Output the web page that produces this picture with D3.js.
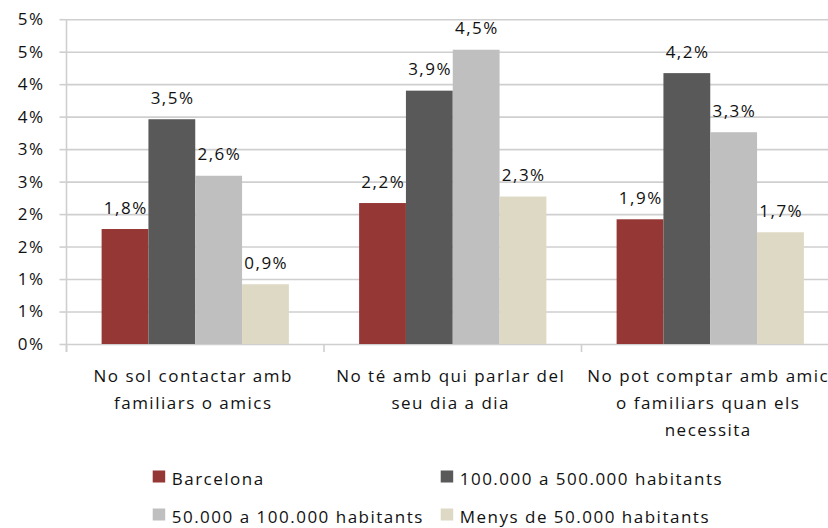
<!DOCTYPE html>
<html>
<head>
<meta charset="utf-8">
<script src="https://cdn.jsdelivr.net/npm/d3@7"></script>
<style>
  body { margin: 0; background: #fff; }
  svg { font-family: "Open Sans", sans-serif; font-size: 17px; letter-spacing: 1.5px; }
</style>
</head>
<body>
<script>
/* DATA */
var categories = ["cat1", "cat2", "cat3"];
var categoryLines = [
  ["No sol contactar amb", "familiars o amics"],
  ["No té amb qui parlar del", "seu dia a dia"],
  ["No pot comptar amb amic", "o familiars quan els", "necessita"]
];
var seriesNames = ["Barcelona", "100.000 a 500.000 habitants", "50.000 a 100.000 habitants", "Menys de 50.000 habitants"];
var barcelona = [1.77, 2.17, 1.92];
var de100a500 = [3.46, 3.90, 4.17];
var de50a100 = [2.59, 4.53, 3.26];
var menys50 = [0.92, 2.27, 1.72];
var yTicks = [0, 0.5, 1, 1.5, 2, 2.5, 3, 3.5, 4, 4.5, 5];

var seriesValues = [barcelona, de100a500, de50a100, menys50];
var colors = ["#953735", "#595959", "#bfbfbf", "#ddd9c4"];

/* GLOBALS */
var W = 828, H = 528;
var plot = { left: 66.5, right: 839, top: 19.2, bottom: 344 };

var loc = d3.formatLocale({ decimal: ",", thousands: ".", grouping: [3], currency: ["", "€"] });
var fmtLabel = function (v) { return loc.format(".1f")(v) + "%"; };
var fmtTick = function (v) { return d3.format(".0f")(v) + "%"; };

var svg = d3.select("body").append("svg")
  .attr("width", W)
  .attr("height", H);

// scales
var x0 = d3.scaleBand().domain(categories).range([plot.left, plot.right]).padding(0);
var x1 = d3.scaleBand().domain(d3.range(seriesNames.length))
  .range([0, x0.bandwidth()]).paddingInner(0).paddingOuter(0.75);
var y = d3.scaleLinear().domain([0, 5]).range([plot.bottom, plot.top]);

// gridlines
svg.append("g")
  .attr("class", "grid")
  .attr("transform", "translate(" + plot.left + ",0)")
  .call(d3.axisLeft(y).tickValues(yTicks).tickSize(-(W - plot.left)).tickFormat(""))
  .call(function (g) { g.select(".domain").remove(); })
  .selectAll("line").attr("stroke", "#cfcfcf").attr("stroke-width", 1.6);

// y axis labels + small ticks
var yAxis = svg.append("g")
  .attr("transform", "translate(" + plot.left + ",0)")
  .call(d3.axisLeft(y).tickValues(yTicks).tickSize(7).tickPadding(15).tickFormat(fmtTick));
yAxis.select(".domain").remove();
yAxis.selectAll("line").attr("stroke", "#cfcfcf").attr("stroke-width", 1.6);
yAxis.selectAll("text").attr("font-size", 17).attr("font-family", "Open Sans").attr("fill", "#111");

// vertical axis line
svg.append("line")
  .attr("x1", plot.left).attr("x2", plot.left)
  .attr("y1", y(5)).attr("y2", y(0) + 8)
  .attr("stroke", "#cfcfcf").attr("stroke-width", 1.6);

// category boundary ticks
svg.selectAll(".xtick")
  .data(categories)
  .enter().append("line")
  .attr("class", "xtick")
  .attr("x1", function (d) { return x0(d); })
  .attr("x2", function (d) { return x0(d); })
  .attr("y1", y(0)).attr("y2", y(0) + 8)
  .attr("stroke", "#cfcfcf").attr("stroke-width", 1.6);

// bars
var groups = svg.selectAll(".cat")
  .data(categories)
  .enter().append("g")
  .attr("class", "cat")
  .attr("transform", function (d) { return "translate(" + x0(d) + ",0)"; });

groups.selectAll("rect")
  .data(function (d, i) { return seriesValues.map(function (s, j) { return { s: j, v: s[i] }; }); })
  .enter().append("rect")
  .attr("x", function (d) { return x1(d.s); })
  .attr("width", x1.bandwidth())
  .attr("y", function (d) { return y(d.v); })
  .attr("height", function (d) { return y(0) - y(d.v); })
  .attr("fill", function (d) { return colors[d.s]; });

groups.selectAll(".lbl")
  .data(function (d, i) { return seriesValues.map(function (s, j) { return { s: j, v: s[i] }; }); })
  .enter().append("text")
  .attr("class", "lbl")
  .attr("x", function (d) { return x1(d.s) + x1.bandwidth() / 2 + 0.75; })
  .attr("y", function (d) { return y(d.v) - 15.5; })
  .attr("text-anchor", "middle")
  .attr("fill", "#111")
  .text(function (d) { return fmtLabel(d.v); });

// category labels
var catLabels = svg.selectAll(".catlabel")
  .data(categories)
  .enter().append("text")
  .attr("class", "catlabel")
  .attr("text-anchor", "middle")
  .attr("fill", "#111");
catLabels.selectAll("tspan")
  .data(function (d, i) { return categoryLines[i]; })
  .enter().append("tspan")
  .attr("x", function () {
    var c = d3.select(this.parentNode).datum();
    return x0(c) + x0.bandwidth() / 2 - 2;
  })
  .attr("y", function (d, i) { return 382 + i * 27; })
  .text(function (d) { return d; });

// legend
var legendPos = [[152.7, 485], [440.7, 485], [152.7, 523], [440.7, 523]];
var legend = svg.selectAll(".leg")
  .data(seriesNames)
  .enter().append("g")
  .attr("class", "leg")
  .attr("transform", function (d, i) { return "translate(" + legendPos[i][0] + "," + legendPos[i][1] + ")"; });
legend.append("rect")
  .attr("x", 0).attr("y", -14.5).attr("width", 12.5).attr("height", 12)
  .attr("fill", function (d, i) { return colors[i]; });
legend.append("text")
  .attr("x", 19).attr("y", 0)
  .attr("fill", "#111")
  .text(function (d) { return d; });
</script>
</body>
</html>
